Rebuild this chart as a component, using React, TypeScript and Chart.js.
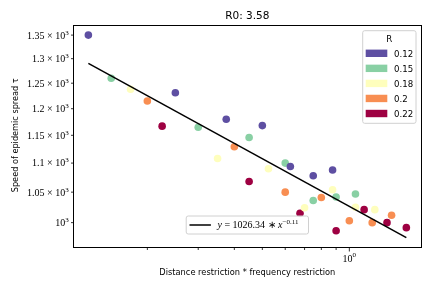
import React, { useEffect, useRef } from 'react';
import { Chart, registerables } from 'chart.js';

Chart.register(...registerables);

const TITLE = 'R0: 3.58';
const X_LABEL = 'Distance restriction * frequency restriction';
const Y_LABEL = 'Speed of epidemic spread τ';
const LEGEND_TITLE = 'R';
const R_LABELS = ['0.12', '0.15', '0.18', '0.2', '0.22'];
const COLORS = ['#5e4fa2', '#89d0a4', '#fefebd', '#f88e52', '#9e0142'];

const X_012 = [0.125, 0.25, 0.375, 0.5, 0.625, 0.75, 0.875];
const Y_012 = [1350, 1231, 1180, 1168, 1094, 1078, 1088];
const X_015 = [0.15, 0.3, 0.45, 0.6, 0.75, 0.9, 1.05];
const Y_015 = [1260, 1165, 1146, 1100, 1036, 1042, 1047];
const X_018 = [0.175, 0.35, 0.525, 0.7, 0.875, 1.05, 1.225];
const Y_018 = [1238, 1108, 1090, 1024, 1054, 1025, 1021];
const X_020 = [0.2, 0.4, 0.6, 0.8, 1.0, 1.2, 1.4];
const Y_020 = [1215, 1129, 1050, 1041, 1003, 1000, 1012];
const X_022 = [0.225, 0.45, 0.675, 0.9, 1.125, 1.35, 1.575];
const Y_022 = [1167, 1068, 1015, 987, 1021, 1000, 992];

const FIT_A = 1026.34;
const FIT_B = -0.11;

const Y_TICKS = [1000, 1050, 1100, 1150, 1200, 1250, 1300, 1350];
const Y_TICK_MANTISSA = ['', '1.05', '1.1', '1.15', '1.2', '1.25', '1.3', '1.35'];
const X_MINOR_TICKS = [0.2, 0.3, 0.4, 0.5, 0.6, 0.7, 0.8, 0.9];
const X_MAJOR_TICKS = [1];
const X_MAJOR_EXP = ['0'];

const X_MIN = 0.1106;
const X_MAX = 1.78;
const Y_MIN = 961;
const Y_MAX = 1372;

const SANS = '"DejaVu Sans", sans-serif';
const SERIF = '"Liberation Serif", serif';

type Part = { text: string; font: string; dy: number };

function partsWidth(ctx: CanvasRenderingContext2D, parts: Part[]) {
  let w = 0;
  for (const p of parts) {
    ctx.font = p.font;
    w += ctx.measureText(p.text).width;
  }
  return w;
}

function drawParts(ctx: CanvasRenderingContext2D, parts: Part[], xLeft: number, baseline: number) {
  let x = xLeft;
  ctx.textAlign = 'left';
  ctx.textBaseline = 'alphabetic';
  for (const p of parts) {
    ctx.font = p.font;
    ctx.fillText(p.text, x, baseline + p.dy);
    x += ctx.measureText(p.text).width;
  }
}

const decorPlugin = {
  id: 'decor',
  afterDraw(chart: any) {
    const { ctx, chartArea: a, scales } = chart;
    const xs = scales.x;
    const ys = scales.y;
    ctx.save();
    ctx.fillStyle = '#000';
    ctx.strokeStyle = '#000';

    // frame
    ctx.lineWidth = 1;
    const L = Math.round(a.left) + 0.5;
    const T = Math.round(a.top) + 0.5;
    const R = Math.round(a.right) - 0.5;
    const B = Math.round(a.bottom) - 0.5;
    ctx.strokeRect(L, T, R - L, B - T);

    // y ticks + labels
    ctx.lineWidth = 0.8;
    Y_TICKS.forEach((v, i) => {
      const py = ys.getPixelForValue(v);
      ctx.beginPath();
      ctx.moveTo(L - 2.5, py);
      ctx.lineTo(L, py);
      ctx.stroke();
      const m = Y_TICK_MANTISSA[i];
      const parts: Part[] = [];
      const base = (m ? m + ' × ' : '') + '10';
      parts.push({ text: base, font: `10px ${SERIF}`, dy: 0 });
      parts.push({ text: '3', font: `7px ${SERIF}`, dy: -4 });
      const w = partsWidth(ctx, parts);
      drawParts(ctx, parts, 68.7 - w, py + 3.4);
    });

    // x ticks
    X_MINOR_TICKS.forEach((v) => {
      const px = xs.getPixelForValue(v);
      ctx.beginPath();
      ctx.moveTo(px, B);
      ctx.lineTo(px, B + 2.5);
      ctx.stroke();
    });
    X_MAJOR_TICKS.forEach((v, i) => {
      const px = xs.getPixelForValue(v);
      ctx.beginPath();
      ctx.moveTo(px, B);
      ctx.lineTo(px, B + 4);
      ctx.stroke();
      const parts: Part[] = [
        { text: '10', font: `10px ${SERIF}`, dy: 0 },
        { text: X_MAJOR_EXP[i], font: `7px ${SERIF}`, dy: -4.5 },
      ];
      const w = partsWidth(ctx, parts);
      drawParts(ctx, parts, px - w / 2, a.bottom + 14.2);
    });

    // title
    const cx = (a.left + a.right) / 2;
    ctx.font = `10.5px ${SANS}`;
    ctx.textAlign = 'center';
    ctx.textBaseline = 'alphabetic';
    ctx.fillText(TITLE, cx, 19);

    // x label
    ctx.font = `9px ${SANS}`;
    ctx.fillText(X_LABEL, cx, a.bottom + 27.5, 176);

    // y label
    ctx.save();
    ctx.translate(15, (a.top + a.bottom) / 2 - 1);
    ctx.rotate(-Math.PI / 2);
    ctx.textAlign = 'center';
    ctx.fillText(Y_LABEL, 0, 3.4, 114);
    ctx.restore();

    // R legend
    const bw = 53.3;
    const bh = 92.6;
    const bx = a.right - 5.7 - bw;
    const by = a.top + 5.7;
    ctx.beginPath();
    ctx.roundRect(bx, by, bw, bh, 2);
    ctx.fillStyle = 'rgba(255,255,255,0.85)';
    ctx.fill();
    ctx.strokeStyle = '#d0d0d0';
    ctx.lineWidth = 1;
    ctx.stroke();
    ctx.fillStyle = '#000';
    ctx.font = `8.6px ${SANS}`;
    ctx.textAlign = 'center';
    ctx.textBaseline = 'alphabetic';
    ctx.fillText(LEGEND_TITLE, bx + bw / 2, by + 11.3);
    R_LABELS.forEach((lab, i) => {
      const ry = by + 22.6 + i * 15.05;
      ctx.fillStyle = COLORS[i];
      ctx.fillRect(bx + 3, ry - 3.7, 21.6, 7.4);
      ctx.fillStyle = '#000';
      ctx.textAlign = 'left';
      ctx.fillText(lab, bx + 31.3, ry + 3.2);
    });

    // fit legend
    const fw = 122.3;
    const fh = 18;
    const fx = cx - fw / 2;
    const fy = a.bottom - 13.5 - fh;
    ctx.beginPath();
    ctx.roundRect(fx, fy, fw, fh, 2);
    ctx.fillStyle = 'rgba(255,255,255,0.85)';
    ctx.fill();
    ctx.strokeStyle = '#d0d0d0';
    ctx.lineWidth = 1;
    ctx.stroke();
    const my = fy + fh / 2;
    ctx.strokeStyle = '#000';
    ctx.lineWidth = 1.5;
    ctx.beginPath();
    ctx.moveTo(fx + 3.3, my);
    ctx.lineTo(fx + 24.7, my);
    ctx.stroke();
    ctx.fillStyle = '#000';
    const fparts: Part[] = [
      { text: 'y', font: `italic 10px ${SERIF}`, dy: 0 },
      { text: ' = 1026.34 ∗ ', font: `10px ${SERIF}`, dy: 0 },
      { text: 'x', font: `italic 10px ${SERIF}`, dy: 0 },
      { text: '−' + String(Math.abs(FIT_B)).replace(/^0/, '0'), font: `7px ${SERIF}`, dy: -4.5 },
    ];
    drawParts(ctx, fparts, fx + 31.3, my + 3.4);

    ctx.restore();
  },
};

export default function App() {
  const ref = useRef<HTMLCanvasElement | null>(null);

  useEffect(() => {
    if (!ref.current) return;
    const XS = [X_012, X_015, X_018, X_020, X_022];
    const YS = [Y_012, Y_015, Y_018, Y_020, Y_022];
    const allX = XS.flat();
    const xLo = Math.min(...allX);
    const xHi = Math.max(...allX);
    const fit = (x: number) => FIT_A * Math.pow(x, FIT_B);

    const datasets: any[] = [
      {
        type: 'line',
        label: 'fit',
        data: [
          { x: xLo, y: fit(xLo) },
          { x: xHi, y: fit(xHi) },
        ],
        borderColor: '#000',
        borderWidth: 1.5,
        pointRadius: 0,
        fill: false,
        order: 0,
      },
      ...R_LABELS.map((lab, i) => ({
        type: 'scatter',
        label: lab,
        data: XS[i].map((x, j) => ({ x, y: YS[i][j] })),
        backgroundColor: COLORS[i],
        borderColor: COLORS[i],
        borderWidth: 0,
        pointRadius: 3.8,
        order: 1,
      })),
    ];

    const chart = new Chart(ref.current, {
      type: 'scatter',
      data: { datasets },
      options: {
        animation: false,
        responsive: true,
        maintainAspectRatio: false,
        events: [],
        layout: { padding: { left: 0, top: 25, right: 10.3, bottom: 0 } },
        plugins: {
          legend: { display: false },
          title: { display: false },
          tooltip: { enabled: false },
        },
        scales: {
          x: {
            type: 'logarithmic',
            min: X_MIN,
            max: X_MAX,
            ticks: { display: false },
            grid: { display: false },
            border: { display: false },
            afterFit: (s: any) => {
              s.height = 40.5;
            },
          },
          y: {
            type: 'logarithmic',
            min: Y_MIN,
            max: Y_MAX,
            ticks: { display: false },
            grid: { display: false },
            border: { display: false },
            afterFit: (s: any) => {
              s.width = 73;
            },
          },
        },
      } as any,
      plugins: [decorPlugin],
    });
    return () => chart.destroy();
  }, []);

  return (
    <div style={{ position: 'absolute', left: 0, top: 0, width: 432, height: 288, background: '#fff' }}>
      <canvas ref={ref} />
    </div>
  );
}
